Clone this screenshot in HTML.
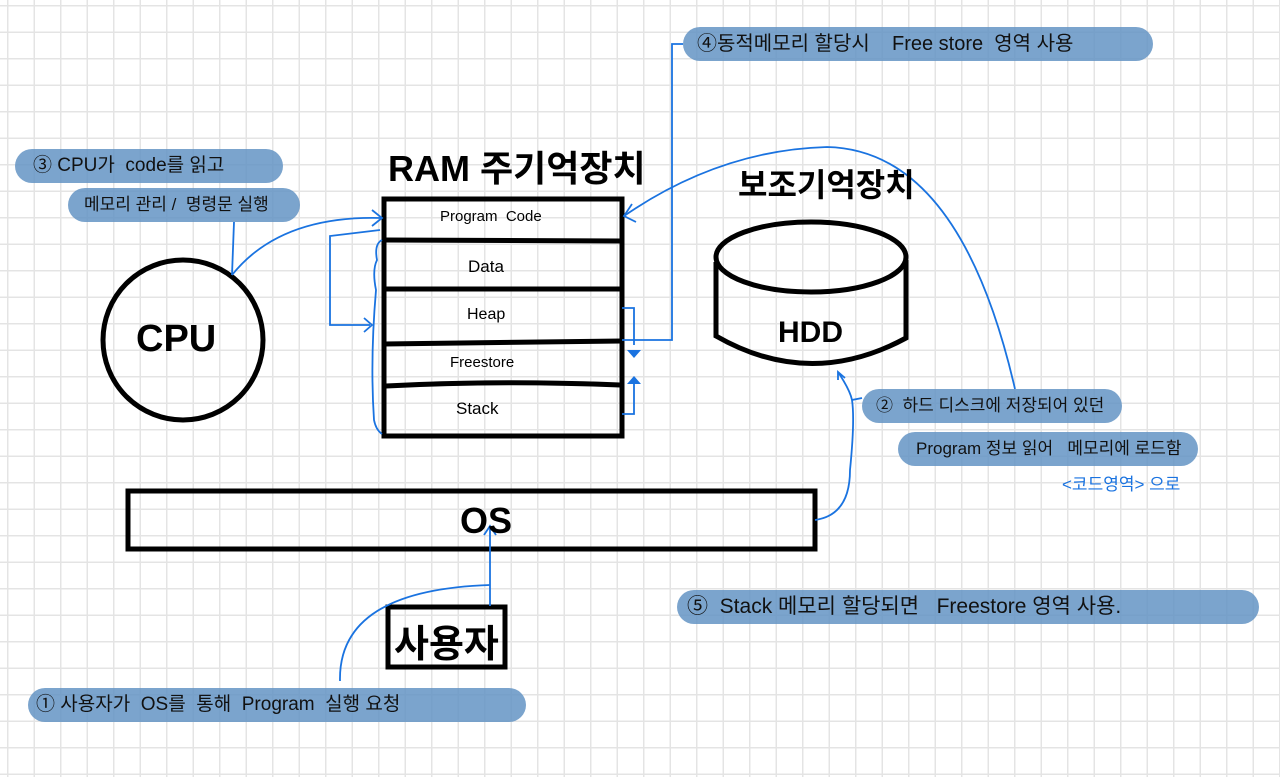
<!DOCTYPE html>
<html><head><meta charset="utf-8"><style>
html,body{margin:0;padding:0;}
body{width:1280px;height:777px;position:relative;overflow:hidden;background:#fff;
background-image:linear-gradient(to right,#e4e4e4 1.5px,transparent 1.5px),linear-gradient(to bottom,#e4e4e4 1.5px,transparent 1.5px);
background-size:26.5px 26.5px;background-position:7px 5px;
font-family:"Liberation Sans","Noto Sans CJK KR",sans-serif;}
.pill{position:absolute;background:rgba(100,148,196,0.85);border-radius:18px;color:#111;font-size:19px;line-height:34px;white-space:nowrap;box-sizing:border-box;padding-left:18px;overflow:hidden;}
.t{position:absolute;white-space:nowrap;color:#000;}
svg{position:absolute;left:0;top:0;}
</style></head><body>
<svg width="1280" height="777" viewBox="0 0 1280 777">
<g fill="none" stroke="#000" stroke-width="5">
<rect x="384" y="199" width="238" height="237"/>
<line x1="384" y1="240" x2="620" y2="241"/>
<line x1="384" y1="289" x2="620" y2="289"/>
<line x1="384" y1="344" x2="622" y2="341"/>
<path d="M386 386 Q500 380 620 385"/>
<circle cx="183" cy="340" r="80"/>
<ellipse cx="811" cy="257" rx="95" ry="35"/>
<path d="M716 262 L716 336 Q810 390 906 338 L906 260"/>
<rect x="128" y="491" width="687" height="58"/>
<rect x="388" y="607" width="117" height="60"/>
</g>
<g fill="none" stroke="#1a73e0" stroke-width="1.8">
<path d="M232 275 Q280 215 382 218"/><path d="M372 210 L382 218 L372 226"/>
<path d="M234 222 L232 275"/>
<path d="M380 230 L330 236 L330 325 L370 325"/><path d="M364 318 L372 325 L364 332"/>
<path d="M382 240 Q374 244 377 260 Q372 270 376 290 Q370 360 374 420 Q376 430 382 434"/>
<path d="M622 308 L634 308 L634 345"/>
<path d="M622 414 L634 414 L634 380"/>
<path d="M683 44 L672 44 L672 340 L622 340"/>
<path d="M1015 389 Q960 150 827 147 Q720 150 624 216"/><path d="M636 222 L624 216 L632 204"/>
<path d="M815 520 Q850 515 850 470 Q855 420 852 400 L862 398"/>
<path d="M852 400 Q850 390 838 372"/><path d="M838 380 L838 372 L845 378"/>
<path d="M490 606 L490 526"/><path d="M484 535 L490 526 L496 535"/>
<path d="M340 681 Q338 590 490 585"/>
</g>
<path d="M627 350 L641 350 L634 358 Z" fill="#1a73e0"/>
<path d="M627 384 L641 384 L634 376 Z" fill="#1a73e0"/>
</svg>
<div class="pill" style="left:15px;top:149px;width:268px;">③ CPU가 &nbsp;code를 읽고</div>
<div class="pill" style="left:68px;top:188px;width:232px;padding-left:16px;font-size:17px;">메모리 관리 / &nbsp;명령문 실행</div>
<div class="pill" style="left:683px;top:27px;width:470px;padding-left:14px;font-size:20px;">④동적메모리 할당시 &nbsp;&nbsp; Free store &nbsp;영역 사용</div>
<div class="pill" style="left:862px;top:389px;width:260px;padding-left:14px;font-size:17px;">② &nbsp;하드 디스크에 저장되어 있던</div>
<div class="pill" style="left:898px;top:432px;width:300px;padding-left:18px;font-size:17px;">Program 정보 읽어 &nbsp; 메모리에 로드함</div>
<div class="t" style="left:1062px;top:470px;color:#1a73e0;font-size:17px;">&lt;코드영역&gt; 으로</div>
<div class="pill" style="left:677px;top:590px;width:582px;padding-left:10px;font-size:21px;">⑤ &nbsp;Stack 메모리 할당되면 &nbsp; Freestore 영역 사용.</div>
<div class="pill" style="left:28px;top:688px;width:498px;padding-left:8px;">① 사용자가 &nbsp;OS를 &nbsp;통해 &nbsp;Program &nbsp;실행 요청</div>
<div class="t" style="left:388px;top:140px;font-size:36px;font-weight:bold;">RAM 주기억장치</div>
<div class="t" style="left:738px;top:160px;font-size:32px;font-weight:bold;">보조기억장치</div>
<div class="t" style="left:440px;top:208px;font-size:15px;">Program &nbsp;Code</div>
<div class="t" style="left:468px;top:257px;font-size:17px;">Data</div>
<div class="t" style="left:467px;top:306px;font-size:16px;">Heap</div>
<div class="t" style="left:450px;top:354px;font-size:15px;">Freestore</div>
<div class="t" style="left:456px;top:399px;font-size:17px;">Stack</div>
<div class="t" style="left:136px;top:318px;font-size:38px;font-weight:bold;">CPU</div>
<div class="t" style="left:778px;top:316px;font-size:30px;font-weight:bold;">HDD</div>
<div class="t" style="left:460px;top:500px;font-size:36px;font-weight:bold;">OS</div>
<div class="t" style="left:394px;top:613px;font-size:38px;font-weight:bold;">사용자</div>
</body></html>
